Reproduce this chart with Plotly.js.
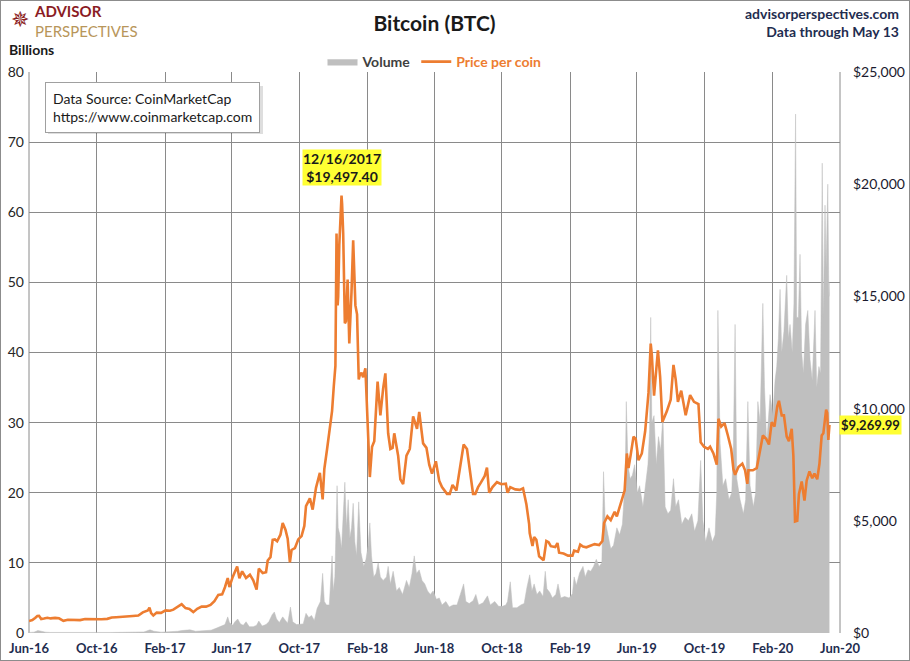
<!DOCTYPE html>
<html>
<head>
<meta charset="utf-8">
<script src="https://cdn.plot.ly/plotly-3.0.1.min.js"></script>
<style>
  html, body { margin: 0; padding: 0; background: #fff; }
  #wrap { width: 910px; height: 661px; box-sizing: border-box; border: 1px solid #8c8c8c; }
  #chart { width: 908px; height: 659px; }
</style>
</head>
<body>
<div id="wrap"><div id="chart"></div></div>
<script>
// ---------- DATA ----------
const priceDates = [
'2016-06-01','2016-06-07','2016-06-12','2016-06-16','2016-06-19','2016-06-23','2016-06-28','2016-07-04','2016-07-10','2016-07-18','2016-07-25',
'2016-08-02','2016-08-10','2016-08-20','2016-09-01','2016-09-10','2016-09-20','2016-10-01','2016-10-10','2016-10-20','2016-10-28',
'2016-11-05','2016-11-15','2016-11-25','2016-12-05','2016-12-15','2016-12-23','2017-01-01','2017-01-04','2017-01-07','2017-01-11',
'2017-01-17','2017-01-25','2017-02-02','2017-02-10','2017-02-16','2017-02-24','2017-03-03','2017-03-10','2017-03-17','2017-03-24',
'2017-03-31','2017-04-08','2017-04-16','2017-04-24','2017-05-01','2017-05-08','2017-05-15','2017-05-20','2017-05-25','2017-05-28',
'2017-06-03','2017-06-11','2017-06-15','2017-06-20','2017-06-27','2017-07-04','2017-07-10','2017-07-16','2017-07-20','2017-07-27',
'2017-08-02','2017-08-05','2017-08-10','2017-08-14','2017-08-18','2017-08-22','2017-08-28','2017-09-01','2017-09-06','2017-09-10',
'2017-09-14','2017-09-17','2017-09-23','2017-09-29','2017-10-05','2017-10-10','2017-10-13','2017-10-20','2017-10-25','2017-10-31',
'2017-11-07','2017-11-12','2017-11-15','2017-11-20','2017-11-26','2017-11-29','2017-12-02','2017-12-05','2017-12-07','2017-12-09',
'2017-12-10','2017-12-12','2017-12-16','2017-12-17','2017-12-19','2017-12-22','2017-12-24','2017-12-27','2017-12-30','2018-01-03',
'2018-01-06','2018-01-10','2018-01-13','2018-01-16','2018-01-18','2018-01-21','2018-01-24','2018-01-28','2018-02-01','2018-02-05',
'2018-02-09','2018-02-13','2018-02-19','2018-02-24','2018-03-01','2018-03-05','2018-03-10','2018-03-14','2018-03-18','2018-03-21',
'2018-03-28','2018-04-01','2018-04-06','2018-04-12','2018-04-18','2018-04-24','2018-05-01','2018-05-05','2018-05-12','2018-05-18',
'2018-05-23','2018-05-28','2018-06-04','2018-06-10','2018-06-15','2018-06-24','2018-06-29','2018-07-04','2018-07-11','2018-07-17',
'2018-07-24','2018-07-30','2018-08-05','2018-08-10','2018-08-14','2018-08-19','2018-08-24','2018-08-31','2018-09-04','2018-09-08',
'2018-09-14','2018-09-22','2018-09-30','2018-10-08','2018-10-11','2018-10-16','2018-10-25','2018-11-02','2018-11-08','2018-11-14',
'2018-11-19','2018-11-20','2018-11-25','2018-11-28','2018-12-02','2018-12-07','2018-12-15','2018-12-20','2018-12-24','2018-12-28',
'2019-01-05','2019-01-09','2019-01-12','2019-01-20','2019-01-28','2019-02-05','2019-02-08','2019-02-15','2019-02-19','2019-02-24',
'2019-03-02','2019-03-10','2019-03-17','2019-03-25','2019-03-31','2019-04-03','2019-04-09','2019-04-15','2019-04-22','2019-04-26',
'2019-05-03','2019-05-10','2019-05-14','2019-05-17','2019-05-21','2019-05-26','2019-05-30','2019-06-04','2019-06-10','2019-06-16',
'2019-06-22','2019-06-26','2019-06-28','2019-07-02','2019-07-09','2019-07-13','2019-07-17','2019-07-25','2019-08-01','2019-08-06',
'2019-08-10','2019-08-14','2019-08-20','2019-08-28','2019-09-05','2019-09-12','2019-09-20','2019-09-24','2019-09-30','2019-10-07',
'2019-10-11','2019-10-17','2019-10-23','2019-10-26','2019-10-31','2019-11-06','2019-11-12','2019-11-18','2019-11-22','2019-11-25',
'2019-12-01','2019-12-08','2019-12-13','2019-12-17','2019-12-19','2019-12-27','2020-01-03','2020-01-08','2020-01-14','2020-01-20',
'2020-01-25','2020-01-30','2020-02-04','2020-02-09','2020-02-12','2020-02-17','2020-02-21','2020-02-26','2020-03-01','2020-03-06',
'2020-03-09','2020-03-12','2020-03-16','2020-03-19','2020-03-24','2020-03-29','2020-04-02','2020-04-07','2020-04-12','2020-04-16',
'2020-04-21','2020-04-25','2020-04-29','2020-05-02','2020-05-07','2020-05-09','2020-05-11','2020-05-13'
];
const priceValues = [
535,575,670,760,765,620,645,680,650,675,655,
545,590,580,575,620,608,615,615,630,690,
705,712,740,760,780,920,1000,1135,890,780,
910,895,1010,990,1040,1170,1280,1110,1070,930,
1080,1180,1175,1250,1420,1700,1720,2040,2450,2050,
2500,2960,2440,2750,2450,2600,2350,1930,2870,2670,
2710,3230,3380,4150,4170,4090,4380,4900,4600,4200,
3150,3700,3780,4170,4320,4770,5650,6000,5500,6470,
7140,5950,7300,8200,9300,9900,10975,11900,17800,14600,
15000,17300,19497.40,19140,17800,13800,13900,15750,12900,15200,
17500,14600,14200,11300,11500,11600,11400,11800,9200,6950,
8300,8550,11200,9700,10900,11570,8900,8200,8250,8900,
7900,6850,6630,7900,8200,9650,9100,9850,8450,8250,
7500,7100,7650,6780,6500,6200,6200,6600,6350,7300,
8400,8200,7050,6200,6200,6500,6700,7000,7370,6250,
6500,6720,6630,6650,6250,6500,6400,6380,6450,5740,
4850,4450,3880,4280,4150,3420,3240,4100,4050,3870,
3830,4010,3580,3540,3450,3450,3670,3620,3940,3850,
3820,3900,3960,3920,4100,4900,5200,5030,5400,5200,
5750,6350,8000,7350,7950,8750,8650,7700,8000,8990,
10700,12900,12400,10580,12600,11400,9400,9880,10400,11950,
11300,10300,10800,9700,10600,10300,10200,8500,8300,8200,
8300,8000,7500,9550,9200,9350,8800,8200,7300,7050,
7400,7550,7250,6650,7250,7250,7350,8100,8800,8650,
8400,9400,9200,10100,10350,9700,9700,8750,8550,9100,
7900,4970,5000,6190,6750,5900,6800,7200,6900,7100,
6850,7550,8800,8900,9950,9800,8600,9269.99
];

const volumeDates = [
'2016-06-01','2016-06-10','2016-06-17','2016-06-22','2016-07-01','2016-07-10','2016-07-20','2016-08-02','2016-08-10','2016-08-25',
'2016-09-10','2016-09-25','2016-10-10','2016-10-25','2016-11-10','2016-11-25','2016-12-10','2016-12-25','2017-01-05','2017-01-12',
'2017-01-25','2017-02-10','2017-02-24','2017-03-03','2017-03-18','2017-03-28','2017-04-10','2017-04-25','2017-05-05','2017-05-12',
'2017-05-20','2017-05-25','2017-05-28','2017-06-03','2017-06-07','2017-06-12','2017-06-17','2017-06-22','2017-06-27','2017-07-03',
'2017-07-10','2017-07-16','2017-07-20','2017-07-26','2017-08-02','2017-08-07','2017-08-13','2017-08-17','2017-08-21','2017-08-26',
'2017-09-01','2017-09-06','2017-09-10','2017-09-15','2017-09-19','2017-09-26','2017-10-02','2017-10-08','2017-10-13','2017-10-18',
'2017-10-23','2017-10-28','2017-11-02','2017-11-08','2017-11-12','2017-11-15','2017-11-19','2017-11-24','2017-11-29','2017-12-01',
'2017-12-04','2017-12-08','2017-12-10','2017-12-13','2017-12-16','2017-12-19','2017-12-22','2017-12-25','2017-12-28','2017-12-31',
'2018-01-03','2018-01-06','2018-01-09','2018-01-12','2018-01-16','2018-01-20','2018-01-25','2018-01-29','2018-02-02','2018-02-05',
'2018-02-08','2018-02-12','2018-02-16','2018-02-20','2018-02-24','2018-03-01','2018-03-07','2018-03-10','2018-03-14','2018-03-19',
'2018-03-25','2018-03-30','2018-04-05','2018-04-12','2018-04-17','2018-04-22','2018-04-26','2018-04-30','2018-05-05','2018-05-10',
'2018-05-15','2018-05-20','2018-05-25','2018-05-30','2018-06-05','2018-06-10','2018-06-15','2018-06-22','2018-06-28','2018-07-05',
'2018-07-12','2018-07-18','2018-07-24','2018-07-28','2018-08-03','2018-08-10','2018-08-15','2018-08-20','2018-08-28','2018-09-05',
'2018-09-10','2018-09-18','2018-09-25','2018-10-02','2018-10-08','2018-10-11','2018-10-16','2018-10-20','2018-10-28','2018-11-04',
'2018-11-10','2018-11-15','2018-11-20','2018-11-24','2018-11-28','2018-12-03','2018-12-08','2018-12-14','2018-12-18','2018-12-21',
'2018-12-26','2018-12-31','2019-01-06','2019-01-10','2019-01-15','2019-01-22','2019-01-30','2019-02-05','2019-02-08','2019-02-12',
'2019-02-18','2019-02-24','2019-02-28','2019-03-05','2019-03-10','2019-03-15','2019-03-20','2019-03-25','2019-03-30','2019-04-02',
'2019-04-05','2019-04-10','2019-04-15','2019-04-20','2019-04-26','2019-05-01','2019-05-06','2019-05-11','2019-05-13','2019-05-16',
'2019-05-20','2019-05-24','2019-05-28','2019-06-02','2019-06-06','2019-06-12','2019-06-17','2019-06-21','2019-06-24','2019-06-26',
'2019-06-28','2019-07-02','2019-07-06','2019-07-10','2019-07-14','2019-07-18','2019-07-22','2019-07-27','2019-08-01','2019-08-06',
'2019-08-10','2019-08-15','2019-08-21','2019-08-27','2019-09-02','2019-09-08','2019-09-13','2019-09-19','2019-09-24','2019-09-28',
'2019-10-03','2019-10-09','2019-10-15','2019-10-20','2019-10-23','2019-10-25','2019-10-29','2019-11-03','2019-11-08','2019-11-14',
'2019-11-19','2019-11-22','2019-11-25','2019-11-28','2019-12-04','2019-12-10','2019-12-14','2019-12-18','2019-12-22','2019-12-28',
'2020-01-01','2020-01-05','2020-01-09','2020-01-14','2020-01-17','2020-01-21','2020-01-27','2020-02-01','2020-02-05','2020-02-08',
'2020-02-11','2020-02-14','2020-02-17','2020-02-21','2020-02-26','2020-02-29','2020-03-03','2020-03-07','2020-03-10','2020-03-13',
'2020-03-15','2020-03-18','2020-03-21','2020-03-24','2020-03-27','2020-03-31','2020-04-04','2020-04-08','2020-04-12','2020-04-17',
'2020-04-20','2020-04-24','2020-04-27','2020-04-30','2020-05-02','2020-05-05','2020-05-07','2020-05-10','2020-05-12','2020-05-13'
];
const volumeValues = [
0.08,0.12,0.35,0.25,0.12,0.08,0.07,0.15,0.06,0.05,
0.06,0.05,0.06,0.08,0.09,0.08,0.08,0.15,0.45,0.25,
0.12,0.15,0.25,0.35,0.45,0.25,0.3,0.4,0.7,0.9,
1.2,2.3,1.5,1.1,1.6,2.0,1.3,1.1,1.6,0.9,
0.9,1.1,1.7,1.0,1.2,1.6,2.6,3.0,2.0,1.5,
2.3,1.8,1.4,3.7,1.6,1.2,1.2,1.3,2.8,2.2,
2.5,1.8,3.5,4.5,8.5,4.5,4.0,4.0,11.0,6.0,
8.0,21.0,15.0,14.0,12.0,16.5,21.5,15.0,19.0,13.5,
15.0,18.5,13.0,11.0,18.7,11.5,9.5,10.5,12.5,15.7,
11.0,8.0,8.5,10.0,8.0,7.5,8.0,9.5,7.0,8.8,
6.0,6.5,5.5,7.5,6.5,8.5,11.0,8.5,9.0,7.5,
7.0,6.0,5.5,6.0,4.8,5.0,4.0,4.5,3.7,4.0,
4.0,5.5,7.0,4.5,4.2,4.6,5.5,4.0,4.3,5.3,
4.0,4.5,3.8,3.8,4.0,4.5,7.3,3.6,3.6,4.0,
4.2,6.5,8.3,6.0,7.0,5.5,6.0,5.2,8.8,6.3,
5.8,5.0,5.5,7.0,5.0,5.2,5.0,5.6,8.0,6.8,
8.6,9.5,8.0,9.0,8.8,9.5,10.5,9.5,10.0,23.0,
16.0,14.0,12.0,12.5,15.0,14.0,15.5,22.0,33.0,24.0,
22.0,22.5,24.0,20.0,21.0,18.0,21.0,24.0,29.0,45.0,
30.0,31.0,24.0,28.0,26.0,31.0,18.0,17.0,17.5,22.0,
18.0,19.0,15.5,16.5,16.0,17.0,14.5,16.0,24.6,16.0,
13.0,15.0,13.0,14.0,20.0,46.0,27.0,21.0,22.0,19.0,
20.0,27.0,44.0,22.0,19.0,17.0,19.0,33.0,21.0,18.0,
20.0,33.0,30.0,47.0,35.0,27.0,34.0,31.0,36.0,38.0,
42.0,49.0,40.0,43.0,51.0,42.0,44.0,40.0,47.0,74.0,
45.0,45.0,54.0,40.0,37.0,44.0,46.0,39.0,36.0,46.0,
35.0,38.0,37.0,67.0,45.0,61.0,52.0,64.0,48.0,50.0
];

const leftTicks = [0,10,20,30,40,50,60,70,80];
const rightTicks = [0,5000,10000,15000,20000,25000];
const xRange = ['2016-06-01','2020-06-01'];

// ---------- helpers (layout positioning only) ----------
const PL = 29, PR = 840, PT = 72, PB = 633;
const px = X => (X - PL) / (PR - PL);
const py = Y => (PB - Y) / (PB - PT);

const FONT = "Lato, 'Open Sans', 'Liberation Sans', sans-serif";
const NAVY = '#1F2D50';
const ORANGE = '#ED7D31';

let peakIdx = 0;
priceValues.forEach((v, i) => { if (v > priceValues[peakIdx]) peakIdx = i; });
const lastIdx = priceValues.length - 1;
const fmtMoney = v => '$' + v.toLocaleString('en-US', {minimumFractionDigits: 2, maximumFractionDigits: 2});
const fmtDate = s => { const [y, m, d] = s.split('-'); return (+m) + '/' + (+d) + '/' + y; };

const traces = [
  {
    x: volumeDates, y: volumeValues, name: 'Volume', type: 'scatter', mode: 'lines',
    fill: 'tozeroy', fillcolor: '#BFBFBF', line: {color: '#BFBFBF', width: 0.5},
    yaxis: 'y', hoverinfo: 'skip'
  },
  {
    x: priceDates, y: priceValues, name: '<span style="color:' + ORANGE + '">Price per coin</span>',
    type: 'scatter', mode: 'lines', line: {color: ORANGE, width: 2.6}, yaxis: 'y2', hoverinfo: 'skip'
  }
];

const layout = {
  width: 908, height: 659,
  margin: {l: PL - 1, r: 908 - (PR - 1), t: PT - 1, b: 659 - (PB - 1)},
  paper_bgcolor: '#ffffff', plot_bgcolor: '#ffffff',
  font: {family: FONT, size: 13, color: '#262626'},
  title: {text: '<b>Bitcoin (BTC)</b>', font: {family: FONT, size: 21, color: '#1a1a1a'},
          x: 0.5, xref: 'paper', xanchor: 'center', y: 0.965, yanchor: 'middle'},
  showlegend: true,
  legend: {orientation: 'h', x: 0.5, xanchor: 'center', y: py(62), yanchor: 'middle',
           font: {family: FONT, size: 14, color: '#404040', weight: 'bold'}, bgcolor: 'rgba(0,0,0,0)',
           itemwidth: 30, traceorder: 'normal'},
  xaxis: {
    type: 'date', range: xRange, tick0: '2016-06-01', dtick: 'M4', tickformat: '%b-%y',
    showgrid: true, gridcolor: '#8a8a8a', gridwidth: 1, zeroline: false,
    showline: false, ticks: '', tickfont: {family: FONT, size: 13, color: NAVY, weight: 'bold'},
    ticklabelstandoff: 6
  },
  yaxis: {
    range: [0, 80], tickvals: leftTicks, showgrid: true, gridcolor: '#8a8a8a', gridwidth: 1,
    zeroline: false, showline: false, ticks: '', tickfont: {family: FONT, size: 14, color: '#262626'},
    ticklabelstandoff: 4
  },
  yaxis2: {
    range: [0, 25000], overlaying: 'y', side: 'right', tickvals: rightTicks,
    tickformat: '$,.0f', showgrid: false, zeroline: false, showline: false, ticks: '',
    tickfont: {family: FONT, size: 14, color: '#1a1a2e'}, ticklabelstandoff: 12
  },
  shapes: [
    {type: 'line', xref: 'paper', yref: 'paper', x0: 0, x1: 0, y0: 0, y1: 1, line: {color: '#8a8a8a', width: 1}, layer: 'below'},
    {type: 'line', xref: 'paper', yref: 'paper', x0: 1, x1: 1, y0: 0, y1: 1, line: {color: '#8a8a8a', width: 1}, layer: 'below'},
    // soft shadow behind the data source box
    {type: 'rect', xref: 'paper', yref: 'paper', x0: px(48), x1: px(263), y0: py(134), y1: py(86),
     fillcolor: 'rgba(0,0,0,0.13)', line: {width: 0}, layer: 'above'}
  ],
  annotations: [
    // logo
    {xref: 'paper', yref: 'paper', x: px(20), y: py(20), text: '✵', showarrow: false,
     font: {family: 'DejaVu Sans', size: 22, color: '#8B1C1C'}, xanchor: 'center', yanchor: 'middle'},
    {xref: 'paper', yref: 'paper', x: px(32), y: py(21),
     text: '<b><span style="color:#8B1C24">ADVISOR</span></b><br><span style="color:#B8965A">PERSPECTIVES</span>',
     showarrow: false, align: 'left',
     font: {family: FONT, size: 15, color: '#8B1C24'}, xanchor: 'left', yanchor: 'middle'},
    // top right
    {xref: 'paper', yref: 'paper', x: px(901), y: py(23),
     text: '<b>advisorperspectives.com<br>Data through May 13</b>', showarrow: false, align: 'right',
     font: {family: FONT, size: 14, color: NAVY}, xanchor: 'right', yanchor: 'middle'},
    // Billions
    {xref: 'paper', yref: 'paper', x: px(7), y: py(50), text: '<b>Billions</b>', showarrow: false,
     font: {family: FONT, size: 14, color: '#1a1a1a'}, xanchor: 'left', yanchor: 'middle'},
    // data source box
    {xref: 'paper', yref: 'paper', x: px(45), y: py(82),
     text: 'Data Source: CoinMarketCap<br>https://www.coinmarketcap.com', showarrow: false, align: 'left',
     font: {family: FONT, size: 14, color: '#1a1a1a'}, xanchor: 'left', yanchor: 'top',
     bgcolor: '#ffffff', borderpad: 7, borderwidth: 1, bordercolor: '#A0A0A0'},
    // peak annotation
    {xref: 'x', yref: 'y2', x: priceDates[peakIdx], y: priceValues[peakIdx], yshift: 9,
     text: '<b>' + fmtDate(priceDates[peakIdx]) + '<br>' + fmtMoney(priceValues[peakIdx]) + '</b>',
     showarrow: false, font: {family: FONT, size: 14, color: '#1a1a1a'}, xanchor: 'center', yanchor: 'bottom',
     bgcolor: '#FFFF33', borderpad: 0},
    // last price
    {xref: 'paper', yref: 'y2', x: 1, y: priceValues[lastIdx], xshift: -1,
     text: '<b>' + fmtMoney(priceValues[lastIdx]) + '</b>', showarrow: false,
     font: {family: FONT, size: 13, color: '#1a1a1a'}, xanchor: 'left', yanchor: 'middle',
     bgcolor: '#FFFF33', borderpad: 1}
  ]
};

Plotly.newPlot('chart', traces, layout, {displayModeBar: false, staticPlot: true});
</script>
</body>
</html>
